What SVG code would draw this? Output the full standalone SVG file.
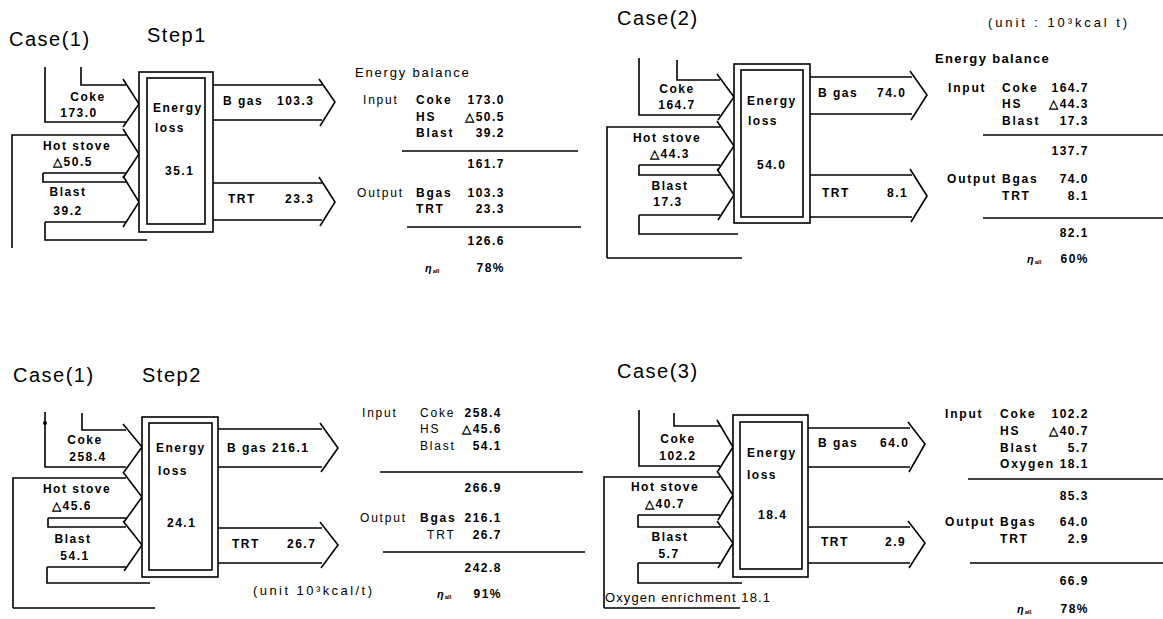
<svg xmlns="http://www.w3.org/2000/svg" width="1163" height="619" viewBox="0 0 1163 619">
<style>
.ln{fill:none;stroke:#000;stroke-width:1.6;stroke-linejoin:miter;stroke-linecap:butt}
.bx{fill:#fff;stroke:#000;stroke-width:1.6}
text{font-family:"Liberation Sans",Arial,sans-serif;fill:#000}
.ti{font-size:20px;letter-spacing:1.5px}
.lb{font-size:12px;font-weight:bold;letter-spacing:1.5px;text-anchor:middle}
.bt{font-size:12px;font-weight:bold;letter-spacing:1.5px}
.tb{font-size:12px;letter-spacing:1.8px}
.tbb{font-size:12px;font-weight:bold;letter-spacing:1.8px}
.hd{font-size:13px;letter-spacing:1.2px}
.nr{font-size:12px;font-weight:bold;letter-spacing:1.5px;text-anchor:end}
.eta{font-size:11px;font-style:italic;font-weight:bold}
.sub{font-size:6px;font-weight:bold}
.sm{font-size:13px}
</style>

<!-- ================= Case(1) Step1 ================= -->
<text class="ti" x="9" y="46">Case(1)</text>
<text class="ti" x="147" y="42">Step1</text>
<g id="c1-connectors">
<path class="ln" d="M45,67 V122 H126 M81,67 V85 H126 M123,79 L139,104 L123,127"/>
<path class="ln" d="M12,248 V135 H126 M43,173 H126 M123,129 L139,154 L123,178"/>
<path class="ln" d="M43,173 V182 H126 M45,222 H126 M45,222 V240 H147 M123,176 L139,202 L123,227"/>
<path class="ln" d="M213,85 H322 M213,120 H322 M319,79 L335,102 L320,126"/>
<path class="ln" d="M213,183 H322 M213,220 H322 M319,177 L335,202 L320,226"/>
</g>
<g id="c1-energy-loss">
<rect class="bx" x="139" y="72" width="74" height="160"/>
<rect class="bx" x="147" y="78" width="58" height="146"/>
<text class="bt" x="153" y="112">Energy</text>
<text class="bt" x="155" y="132">loss</text>
<text class="bt" x="165" y="175">35.1</text>
</g>
<g id="c1-coke"><text class="lb" x="88" y="101">Coke</text><text class="lb" x="79" y="117">173.0</text></g>
<g id="c1-hotstove"><text class="lb" x="77" y="150">Hot stove</text><text class="lb" x="73" y="166">△50.5</text></g>
<g id="c1-blast"><text class="lb" x="68" y="196">Blast</text><text class="lb" x="68" y="215">39.2</text></g>
<g id="c1-bgas"><text class="bt" x="223" y="105">B gas</text><text class="bt" x="277" y="105">103.3</text></g>
<g id="c1-trt"><text class="bt" x="228" y="203">TRT</text><text class="bt" x="285" y="203">23.3</text></g>
<g id="c1-table">
<text class="hd" x="355" y="77" textLength="115" lengthAdjust="spacing">Energy balance</text>
<text class="tb" x="363" y="104">Input</text>
<text class="tbb" x="416" y="104">Coke</text><text class="nr" x="505" y="104">173.0</text>
<text class="tbb" x="416" y="121">HS</text><text class="nr" x="505" y="121">△50.5</text>
<text class="tbb" x="416" y="137">Blast</text><text class="nr" x="505" y="137">39.2</text>
<path class="ln" d="M402,151 H578"/>
<text class="nr" x="505" y="168">161.7</text>
<text class="tb" x="357" y="197">Output</text>
<text class="tbb" x="416" y="197">Bgas</text><text class="nr" x="505" y="197">103.3</text>
<text class="tbb" x="416" y="213">TRT</text><text class="nr" x="505" y="213">23.3</text>
<path class="ln" d="M407,227 H581"/>
<text class="nr" x="505" y="245">126.6</text>
<text x="425" y="272"><tspan class="eta">η</tspan><tspan class="sub" dx="1" dy="1">all</tspan></text>
<text class="nr" x="505" y="272">78%</text>
</g>

<!-- ================= Case(2) ================= -->
<text class="ti" x="617" y="25">Case(2)</text>
<g id="c2-connectors">
<path class="ln" d="M639,58 V115 H720 M677,60 V80 H720 M717,74 L734,97 L718,120"/>
<path class="ln" d="M607,258 V127 H720 M639,165 H720 M717,121 L734,146 L718,170"/>
<path class="ln" d="M639,165 V175 H720 M639,215 H720 M639,215 V234 H738 M717,169 L734,195 L718,220"/>
<path class="ln" d="M607,258 H742"/>
<path class="ln" d="M810,77 H912 M810,114 H912 M910,71 L927,95 L911,120"/>
<path class="ln" d="M810,175 H912 M810,217 H912 M910,169 L927,196 L911,222"/>
</g>
<g id="c2-energy-loss">
<rect class="bx" x="734" y="64" width="76" height="159"/>
<rect class="bx" x="741" y="70" width="62" height="147"/>
<text class="bt" x="747" y="105">Energy</text>
<text class="bt" x="748" y="125">loss</text>
<text class="bt" x="757" y="169">54.0</text>
</g>
<g id="c2-coke"><text class="lb" x="677" y="93">Coke</text><text class="lb" x="677" y="109">164.7</text></g>
<g id="c2-hotstove"><text class="lb" x="667" y="142">Hot stove</text><text class="lb" x="670" y="158">△44.3</text></g>
<g id="c2-blast"><text class="lb" x="670" y="190">Blast</text><text class="lb" x="668" y="206">17.3</text></g>
<g id="c2-bgas"><text class="bt" x="818" y="97">B gas</text><text class="bt" x="877" y="97">74.0</text></g>
<g id="c2-trt"><text class="bt" x="822" y="197">TRT</text><text class="bt" x="887" y="197">8.1</text></g>
<g id="c2-table">
<text class="sm" x="988" y="27" textLength="139" lengthAdjust="spacing">(unit : 10³kcal t)</text>
<text class="hd" x="935" y="63" font-weight="bold" textLength="115" lengthAdjust="spacing">Energy balance</text>
<text class="tbb" x="948" y="92">Input</text>
<text class="tbb" x="1002" y="92">Coke</text><text class="nr" x="1089" y="92">164.7</text>
<text class="tbb" x="1002" y="108">HS</text><text class="nr" x="1089" y="108">△44.3</text>
<text class="tbb" x="1002" y="125">Blast</text><text class="nr" x="1089" y="125">17.3</text>
<path class="ln" d="M983,135 H1163"/>
<text class="nr" x="1089" y="155">137.7</text>
<text class="tbb" x="947" y="183">Output</text>
<text class="tbb" x="1002" y="183">Bgas</text><text class="nr" x="1089" y="183">74.0</text>
<text class="tbb" x="1002" y="200">TRT</text><text class="nr" x="1089" y="200">8.1</text>
<path class="ln" d="M983,218 H1163"/>
<text class="nr" x="1089" y="237">82.1</text>
<text x="1027" y="263"><tspan class="eta">η</tspan><tspan class="sub" dx="1" dy="1">all</tspan></text>
<text class="nr" x="1089" y="263">60%</text>
</g>

<!-- ================= Case(1) Step2 ================= -->
<text class="ti" x="13" y="382">Case(1)</text>
<text class="ti" x="142" y="382">Step2</text>
<g id="c3-connectors">
<path class="ln" d="M45,412 V467 H126 M82,413 V430 H126 M123,424 L142,447 L124,472"/>
<circle cx="45" cy="423" r="2"/>
<path class="ln" d="M13,608 V478 H126 M48,518 H126 M123,472 L142,497 L124,522"/>
<path class="ln" d="M48,518 V527 H126 M47,567 H126 M47,567 V583 H150 M123,521 L142,545 L124,571"/>
<path class="ln" d="M13,608 H155"/>
<path class="ln" d="M218,429 H322 M218,467 H322 M320,423 L338,448 L321,472"/>
<path class="ln" d="M218,528 H322 M218,563 H322 M320,522 L338,545 L321,568"/>
</g>
<g id="c3-energy-loss">
<rect class="bx" x="142" y="417" width="76" height="160"/>
<rect class="bx" x="149" y="423" width="63" height="147"/>
<text class="bt" x="156" y="452">Energy</text>
<text class="bt" x="158" y="475">loss</text>
<text class="bt" x="167" y="527">24.1</text>
</g>
<g id="c3-coke"><text class="lb" x="85" y="444">Coke</text><text class="lb" x="88" y="461">258.4</text></g>
<g id="c3-hotstove"><text class="lb" x="77" y="493">Hot stove</text><text class="lb" x="72" y="510">△45.6</text></g>
<g id="c3-blast"><text class="lb" x="73" y="543">Blast</text><text class="lb" x="75" y="560">54.1</text></g>
<g id="c3-bgas"><text class="bt" x="227" y="452">B gas</text><text class="bt" x="272" y="452">216.1</text></g>
<g id="c3-trt"><text class="bt" x="232" y="548">TRT</text><text class="bt" x="287" y="548">26.7</text></g>
<g id="c3-table">
<text class="sm" x="253" y="595" textLength="119" lengthAdjust="spacing">(unit 10³kcal/t)</text>
<text class="tb" x="362" y="417">Input</text>
<text class="tb" x="420" y="417">Coke</text><text class="nr" x="502" y="417">258.4</text>
<text class="tb" x="420" y="433">HS</text><text class="nr" x="502" y="433">△45.6</text>
<text class="tb" x="420" y="450">Blast</text><text class="nr" x="502" y="450">54.1</text>
<path class="ln" d="M380,472 H583"/>
<text class="nr" x="502" y="492">266.9</text>
<text class="tb" x="360" y="522">Output</text>
<text class="tbb" x="420" y="522">Bgas</text><text class="nr" x="502" y="522">216.1</text>
<text class="tb" x="427" y="539">TRT</text><text class="nr" x="502" y="539">26.7</text>
<path class="ln" d="M383,552 H585"/>
<text class="nr" x="502" y="572">242.8</text>
<text x="437" y="598"><tspan class="eta">η</tspan><tspan class="sub" dx="1" dy="1">all</tspan></text>
<text class="nr" x="502" y="598">91%</text>
</g>

<!-- ================= Case(3) ================= -->
<text class="ti" x="617" y="378">Case(3)</text>
<g id="c4-connectors">
<path class="ln" d="M639,410 V466 H720 M674,413 V426 H720 M717,420 L733,447 L718,471"/>
<path class="ln" d="M604,608 V477 H720 M638,515 H720 M717,471 L733,495 L718,520"/>
<path class="ln" d="M638,515 V527 H720 M638,563 H720 M638,563 V583 H742 M717,521 L733,543 L718,568"/>
<path class="ln" d="M604,608 H740"/>
<path class="ln" d="M808,428 H910 M808,467 H910 M908,422 L925,444 L909,472"/>
<path class="ln" d="M808,527 H910 M808,563 H910 M908,521 L925,543 L909,568"/>
</g>
<g id="c4-energy-loss">
<rect class="bx" x="733" y="415" width="75" height="162"/>
<rect class="bx" x="740" y="422" width="62" height="147"/>
<text class="bt" x="747" y="457">Energy</text>
<text class="bt" x="747" y="479">loss</text>
<text class="bt" x="758" y="519">18.4</text>
</g>
<g id="c4-coke"><text class="lb" x="678" y="443">Coke</text><text class="lb" x="678" y="460">102.2</text></g>
<g id="c4-hotstove"><text class="lb" x="665" y="491">Hot stove</text><text class="lb" x="665" y="508">△40.7</text></g>
<g id="c4-blast"><text class="lb" x="670" y="541">Blast</text><text class="lb" x="669" y="558">5.7</text></g>
<g id="c4-oxygen"><text class="sm" x="605" y="602" textLength="165" lengthAdjust="spacing">Oxygen enrichment 18.1</text></g>
<g id="c4-bgas"><text class="bt" x="818" y="447">B gas</text><text class="bt" x="880" y="447">64.0</text></g>
<g id="c4-trt"><text class="bt" x="821" y="546">TRT</text><text class="bt" x="885" y="546">2.9</text></g>
<g id="c4-table">
<text class="tbb" x="945" y="418">Input</text>
<text class="tbb" x="1000" y="418">Coke</text><text class="nr" x="1089" y="418">102.2</text>
<text class="tbb" x="1000" y="435">HS</text><text class="nr" x="1089" y="435">△40.7</text>
<text class="tbb" x="1000" y="452">Blast</text><text class="nr" x="1089" y="452">5.7</text>
<text class="tbb" x="1000" y="468">Oxygen</text><text class="nr" x="1089" y="468">18.1</text>
<path class="ln" d="M968,479 H1163"/>
<text class="nr" x="1089" y="500">85.3</text>
<text class="tbb" x="945" y="526">Output</text>
<text class="tbb" x="1000" y="526">Bgas</text><text class="nr" x="1089" y="526">64.0</text>
<text class="tbb" x="1000" y="543">TRT</text><text class="nr" x="1089" y="543">2.9</text>
<path class="ln" d="M970,563 H1163"/>
<text class="nr" x="1089" y="585">66.9</text>
<text x="1017" y="613"><tspan class="eta">η</tspan><tspan class="sub" dx="1" dy="1">all</tspan></text>
<text class="nr" x="1089" y="613">78%</text>
</g>
</svg>
